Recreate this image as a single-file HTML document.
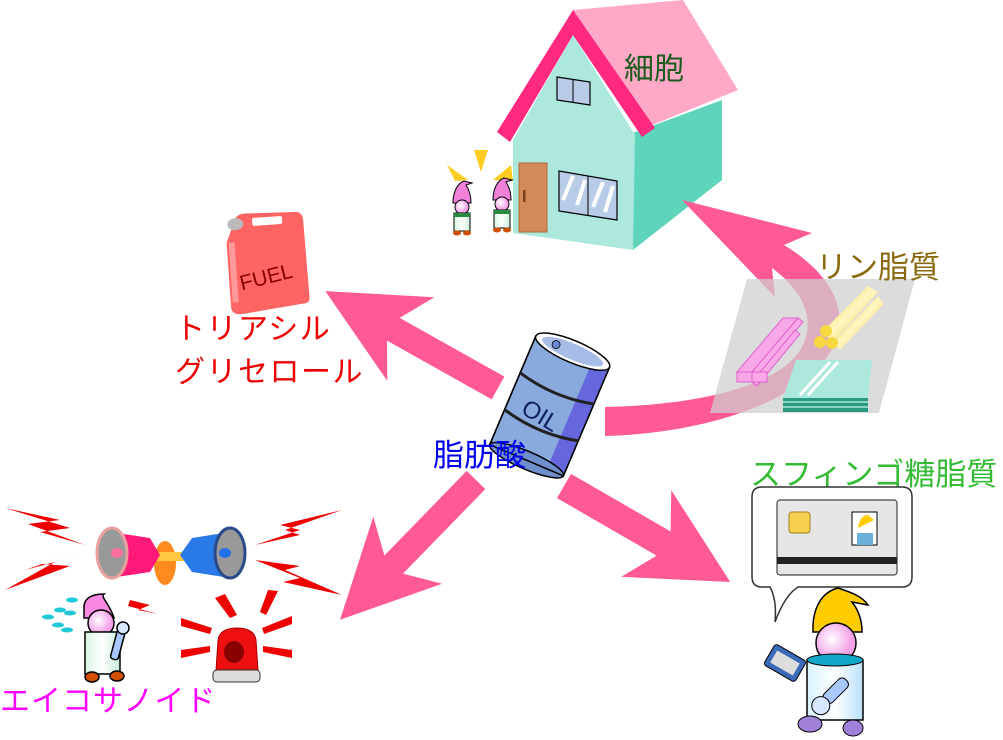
<!DOCTYPE html>
<html><head><meta charset="utf-8"><style>
html,body{margin:0;padding:0;background:#fff;width:1003px;height:740px;overflow:hidden}
svg{display:block}
text{font-family:"Liberation Sans","Noto Sans CJK JP",sans-serif}
</style></head><body>
<svg width="1003" height="740" viewBox="0 0 1003 740" xmlns="http://www.w3.org/2000/svg">
<defs>
<linearGradient id="cyl" x1="0" x2="1"><stop offset="0" stop-color="#d8f4ff"/><stop offset=".5" stop-color="#fff"/><stop offset="1" stop-color="#b8e0f8"/></linearGradient>
<linearGradient id="cylg" x1="0" x2="1"><stop offset="0" stop-color="#d8f6e0"/><stop offset=".5" stop-color="#fff"/><stop offset="1" stop-color="#c8eed8"/></linearGradient>
<radialGradient id="head" cx=".4" cy=".4"><stop offset="0" stop-color="#fff"/><stop offset="1" stop-color="#f5a0e8"/></radialGradient>
<linearGradient id="gold" x1="0" x2="1" y1="0" y2="1"><stop offset="0" stop-color="#f0d040"/><stop offset=".5" stop-color="#fff6c0"/><stop offset="1" stop-color="#d8b020"/></linearGradient>
<g id="gnome">
 <path d="M-9,-2 C-9,-14 -4,-22 2,-24 L10,-22 L4,-20 C8,-14 9,-8 9,-2 Z" fill="#f080d8" stroke="#000" stroke-width="1"/>
 <circle cx="0" cy="2" r="7" fill="url(#head)" stroke="#000" stroke-width="1"/>
 <rect x="-8" y="8" width="16" height="18" fill="url(#cylg)" stroke="#000" stroke-width="1"/>
 <rect x="-8" y="8" width="16" height="4" fill="#2a8a40"/>
 <ellipse cx="-5" cy="28" rx="4" ry="2.5" fill="#d05000"/><ellipse cx="5" cy="28" rx="4" ry="2.5" fill="#d05000"/>
</g>
</defs>

<!-- HOUSE -->
<polygon points="633,133 722,100 722,180 633,250" fill="#5ed5bb"/>
<polygon points="513,140 573,35 635,135 633,250 513,233" fill="#ade8dc"/>
<polygon points="573,10 683,0 738,90 640,130" fill="#ffa8c8"/>
<polygon points="497,132 573,10 655,128 642,137 573,35 510,142" fill="#ff2a80"/>
<polygon points="557,77 590,82 590,105 557,100" fill="#b8cce8" stroke="#000" stroke-width="1.2"/>
<line x1="573" y1="79" x2="573" y2="102" stroke="#000"/>
<polygon points="559,171 617,181 617,220 559,211" fill="#b8cce8" stroke="#000" stroke-width="1.2"/>
<line x1="588" y1="176" x2="588" y2="215" stroke="#000"/>
<path d="M563,200 L573,176 M577,205 L585,180 M593,207 L603,182 M605,212 L613,186" stroke="#fff" stroke-width="4"/>
<rect x="519" y="163" width="28" height="69" fill="#d48a5a" stroke="#b06a3a"/>
<rect x="523" y="190" width="2.5" height="12" fill="#7a4020"/>
<text x="624" y="79" font-size="30" fill="#1a5c1a">細胞</text>
<polygon points="474,150 488,150 481,172" fill="#ffcc22"/>
<polygon points="447,165 468,180 455,181" fill="#ffcc22"/>
<polygon points="511,165 513,181 493,180" fill="#ffcc22"/>
<use href="#gnome" x="462" y="205"/>
<use href="#gnome" x="502" y="202"/>

<!-- FUEL -->
<g transform="rotate(-4 268 262)">
<path d="M236,222 Q238,212 248,212 L300,214 Q306,215 306,224 L307,300 Q307,306 300,306 L240,312 Q228,313 228,304 L228,240 Z" fill="#ff6464"/>
<rect x="255" y="217" width="30" height="8" rx="2" fill="#fff"/>
<ellipse cx="238" cy="222" rx="8" ry="6" fill="#bbb"/>
<rect x="230" y="240" width="6" height="60" fill="#ff9a9a"/>
<text x="238" y="283" font-size="21" fill="#800" transform="rotate(-10 270 275)">FUEL</text>
</g>
<text x="175" y="339" font-size="30" fill="#ee0000" letter-spacing="1.5">トリアシル</text>
<text x="175" y="382" font-size="30" fill="#ee0000" letter-spacing="1.5">グリセロール</text>

<!-- CURVED ARROW -->
<path d="M605,407 C700,405 790,385 805,340 C815,310 795,285 772,268 L775,297 L682,200 L812,233 L784,245 C822,268 846,300 838,332 C826,392 720,433 605,436 Z" fill="#ff5a96"/>
<polygon points="747,279 915,279 879,413 710,413" fill="#cfcfcf" opacity=".72"/>
<g fill="#f8a8e8" stroke="#e060d0" stroke-width="1">
<polygon points="737,372 783,318 798,318 752,372"/>
<polygon points="752,372 798,318 803,322 757,376"/>
<polygon points="752,382 795,330 800,334 757,386"/>
<rect x="737" y="372" width="15" height="10"/><rect x="752" y="372" width="15" height="10"/>
</g>
<g>
<polygon points="822,332 868,286 878,292 834,342" fill="url(#gold)"/>
<polygon points="834,342 878,296 884,304 840,350" fill="url(#gold)"/>
<circle cx="826" cy="331" r="6" fill="#f8d840"/><circle cx="820" cy="342" r="6" fill="#f8d840"/><circle cx="832" cy="343" r="6" fill="#f8d840"/>
</g>
<polygon points="796,360 872,360 868,398 783,398" fill="#ade8dc"/>
<rect x="783" y="398" width="85" height="14" fill="#2a9a80"/>
<line x1="783" y1="402" x2="868" y2="402" stroke="#ade8dc" stroke-width="1.5"/>
<line x1="783" y1="407" x2="868" y2="407" stroke="#ade8dc" stroke-width="1.5"/>
<path d="M800,395 L830,362 M808,395 L838,362" stroke="#fff" stroke-width="3"/>
<text x="816" y="278" font-size="31" fill="#8a6a10">リン脂質</text>

<!-- STRAIGHT ARROWS -->
<g fill="#ff5a96">
<polygon transform="translate(498,388) rotate(209.3)" points="0,-13 120,-13 100,-48 198,0 100,48 120,13 0,13"/>
<polygon transform="translate(476,480) rotate(134.2)" points="0,-13 118,-13 98,-48 195,0 98,48 118,13 0,13"/>
<polygon transform="translate(564,486) rotate(30)" points="0,-14 115,-14 95,-50 192,0 95,50 115,14 0,14"/>
</g>

<!-- BARREL -->
<g transform="translate(550,405) rotate(23)">
<rect x="-40" y="-58" width="80" height="118" fill="#88aadd" stroke="#000" stroke-width="1.5"/>
<rect x="22" y="-58" width="18" height="118" fill="#6666dd"/>
<ellipse cx="0" cy="60" rx="40" ry="9" fill="#6f8fcc" stroke="#000" stroke-width="1.5"/>
<rect x="-40" y="-58" width="80" height="118" fill="none" stroke="#000" stroke-width="1.5"/>
<path d="M-40,-18 Q0,-8 40,-18 M-40,22 Q0,32 40,22" stroke="#222" stroke-width="3" fill="none"/>
<ellipse cx="0" cy="-58" rx="40" ry="11" fill="#fff" stroke="#000" stroke-width="1.5"/>
<ellipse cx="0" cy="-58" rx="33" ry="8" fill="#a8bce8"/>
<circle cx="-18" cy="-58" r="4" fill="#6a8ad8" stroke="#000" stroke-width=".8"/>
<text x="-22" y="22" font-size="24" fill="#102060" transform="rotate(8)">OIL</text>
</g>
<text x="433" y="466" font-size="31" fill="#0000ee">脂肪酸</text>

<!-- SPHINGO -->
<text x="750" y="485" font-size="31" fill="#33bb33">スフィンゴ糖脂質</text>
<path d="M762,487 L902,487 Q912,487 912,497 L912,577 Q912,587 902,587 L798,587 Q785,595 775,622 Q777,600 770,587 L762,587 Q752,587 752,577 L752,497 Q752,487 762,487 Z" fill="#fff" stroke="#333" stroke-width="1.5"/>
<rect x="777" y="500" width="120" height="75" rx="3" fill="#e6e6e6" stroke="#444" stroke-width="1.2"/>
<rect x="777" y="557" width="120" height="7" fill="#222"/>
<rect x="789" y="512" width="21" height="21" rx="3" fill="#f8d050" stroke="#a08020"/>
<rect x="852" y="512" width="25" height="33" fill="#fff" stroke="#000"/>
<path d="M858,528 Q860,515 868,515 L874,520 Z" fill="#ffcc00"/>
<rect x="857" y="533" width="16" height="12" fill="#6ab0d8"/>
<path d="M813,632 C812,608 822,592 838,588 C850,592 862,596 868,605 L852,602 C860,612 862,622 862,632 Z" fill="#ffcc00" stroke="#000" stroke-width="1.5"/>
<circle cx="836" cy="643" r="20" fill="url(#head)" stroke="#000" stroke-width="1.5"/>
<rect x="807" y="660" width="56" height="60" fill="url(#cyl)" stroke="#000" stroke-width="1.5"/>
<ellipse cx="835" cy="660" rx="28" ry="6" fill="#10a8c8" stroke="#000"/>
<ellipse cx="810" cy="724" rx="12" ry="8" fill="#a080d8" stroke="#000"/>
<ellipse cx="853" cy="728" rx="10" ry="8" fill="#a080d8" stroke="#000"/>
<g transform="translate(785,663) rotate(30)"><rect x="-18" y="-12" width="36" height="24" rx="3" fill="#3a6ab8" stroke="#000"/><rect x="-13" y="-7" width="26" height="14" fill="#ddd"/></g>
<g transform="translate(830,695) rotate(45)"><rect x="-5" y="-22" width="12" height="30" rx="5" fill="#a8c8ff" stroke="#000"/><circle cx="1" cy="14" r="9" fill="#d8e8ff" stroke="#000"/></g>

<!-- EICOSANOID -->
<g fill="#ee0000">
<polygon points="5,508 60,520 28,524 85,545 40,532 70,528"/>
<polygon points="5,590 55,562 25,570 88,548 42,564 70,566"/>
<polygon points="342,510 280,525 300,530 255,545 300,535 285,530"/>
<polygon points="342,595 285,570 300,566 255,560 300,578 283,582"/>
<polygon points="215,598 225,594 237,615 230,618"/><polygon points="278,591 268,590 260,612 266,615"/>
<polygon points="181,618 212,628 210,634 181,626"/><polygon points="292,616 262,628 264,634 292,624"/>
<polygon points="181,650 210,646 210,652 181,658"/><polygon points="292,650 263,646 263,652 292,658"/>
<polygon points="130,600 150,605 138,610 158,614 128,606"/>
</g>
<g>
<ellipse cx="165" cy="563" rx="11" ry="22" fill="#ff8a20"/>
<rect x="140" y="552" width="50" height="9" rx="4" fill="#ffc840"/>
<polygon points="110,532 150,538 160,555 150,572 110,578" fill="#ff1a7a"/>
<ellipse cx="112" cy="553" rx="15" ry="25" fill="#999" stroke="#e8a0a0" stroke-width="3"/>
<ellipse cx="117" cy="553" rx="6" ry="5" fill="#ff70a0"/>
<polygon points="230,532 192,538 180,555 192,572 230,578" fill="#2a7ae8"/>
<ellipse cx="230" cy="553" rx="15" ry="25" fill="#999" stroke="#2a4a8a" stroke-width="3"/>
<ellipse cx="225" cy="553" rx="6" ry="5" fill="#2070e8"/>
</g>
<g stroke="#000" stroke-width="1.5">
<path d="M84,607 C84,598 92,594 104,594 C100,597 110,604 114,618 L84,618 Z" fill="#f888e0"/>
<circle cx="101" cy="623" r="13" fill="url(#head)"/>
<rect x="85" y="632" width="35" height="42" fill="url(#cylg)"/>
<ellipse cx="92" cy="677" rx="7" ry="5" fill="#d05000"/><ellipse cx="117" cy="676" rx="7" ry="5" fill="#d05000"/>
<rect x="115" y="630" width="8" height="30" rx="3" fill="#a8c8ff" transform="rotate(15 119 640)"/>
<circle cx="123" cy="628" r="6" fill="#d8e8ff"/>
</g>
<g fill="#20c8d8"><ellipse cx="48" cy="617" rx="6" ry="2.5"/><ellipse cx="60" cy="610" rx="6" ry="2.5"/><ellipse cx="72" cy="600" rx="6" ry="2.5"/><ellipse cx="58" cy="625" rx="6" ry="2.5"/><ellipse cx="70" cy="613" rx="6" ry="2.5"/><ellipse cx="67" cy="630" rx="6" ry="2.5"/></g>
<g>
<path d="M216,670 L218,640 Q220,628 237,628 Q254,628 256,640 L258,670 Z" fill="#ee1010" stroke="#a00" stroke-width="1"/>
<ellipse cx="234" cy="652" rx="10" ry="11" fill="#800"/>
<rect x="213" y="670" width="47" height="12" rx="4" fill="#ddd" stroke="#333"/>
</g>
<text x="0" y="711" font-size="30" fill="#ff00ff" letter-spacing="1">エイコサノイド</text>
</svg>
</body></html>
